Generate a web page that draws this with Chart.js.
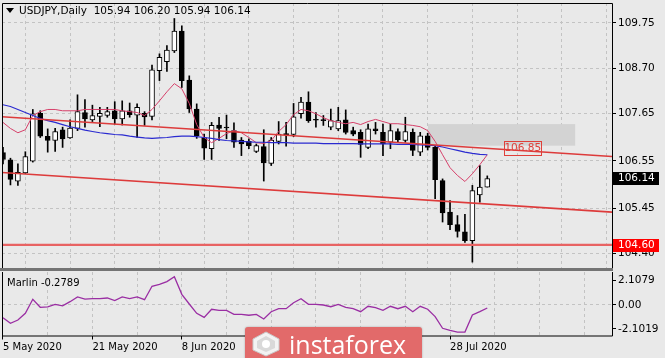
<!DOCTYPE html>
<html><head><meta charset="utf-8">
<script src="https://cdn.jsdelivr.net/npm/chart.js@4/dist/chart.umd.min.js"></script>
<style>
html,body{margin:0;padding:0;background:#e9e9e9;overflow:hidden;}
#wrap{position:relative;width:665px;height:358px;background:#e9e9e9;font-family:"DejaVu Sans",sans-serif;overflow:hidden;}
canvas{position:absolute;left:0;}
#main{top:0;}
#ind{top:271px;}
#title{position:absolute;left:6px;top:4px;font-size:10.5px;color:#000;white-space:nowrap;}
#title .tri{display:inline-block;width:0;height:0;border-left:4px solid transparent;border-right:4px solid transparent;border-top:5px solid #000;margin-right:5px;vertical-align:1px;}
#mlabel{position:absolute;left:7px;top:277px;font-size:10px;color:#000;white-space:nowrap;}
#logo{position:absolute;left:245px;top:327px;width:177px;height:34px;background:#e26a6a;border-radius:3px;box-shadow:0 0 2px rgba(0,0,0,0.3);}
#logo .txt{position:absolute;left:44px;top:0px;font-family:"Open Sans","DejaVu Sans",sans-serif;font-size:25px;color:#fff;}
#logo .ico{position:absolute;left:6px;top:4px;width:30px;height:26px;}
</style></head>
<body><div id="wrap">
<canvas id="main" width="665" height="272"></canvas>
<canvas id="ind" width="665" height="87"></canvas>
<div id="title"><span class="tri"></span>USDJPY,Daily&nbsp; 105.94 106.20 105.94 106.14</div>
<div id="mlabel">Marlin -0.2789</div>
<div id="logo"><svg class="ico" viewBox="0 0 30 26"><polygon points="15,1 28,8 28,19 15,25 2,19 2,8" fill="#f3f3f3" stroke="#c9c9c9" stroke-width="1"/><polygon points="15,5 24,10 24,17 15,21 6,17 6,10" fill="#d9d9d9"/><circle cx="15" cy="13" r="4" fill="#ffffff"/></svg><span class="txt">instaforex</span></div>
</div>
<script>
// ---- data ----
const dates = ['2020-05-05','2020-05-06','2020-05-07','2020-05-08','2020-05-11','2020-05-12','2020-05-13','2020-05-14','2020-05-15','2020-05-18','2020-05-19','2020-05-20','2020-05-21','2020-05-22','2020-05-25','2020-05-26','2020-05-27','2020-05-28','2020-05-29',
'2020-06-01','2020-06-02','2020-06-03','2020-06-04','2020-06-05','2020-06-08','2020-06-09','2020-06-10','2020-06-11','2020-06-12','2020-06-15','2020-06-16','2020-06-17','2020-06-18','2020-06-19','2020-06-22','2020-06-23','2020-06-24','2020-06-25','2020-06-26','2020-06-29','2020-06-30',
'2020-07-01','2020-07-02','2020-07-03','2020-07-06','2020-07-07','2020-07-08','2020-07-09','2020-07-10','2020-07-13','2020-07-14','2020-07-15','2020-07-16','2020-07-17','2020-07-20','2020-07-21','2020-07-22','2020-07-23','2020-07-24','2020-07-27','2020-07-28','2020-07-29','2020-07-30','2020-07-31',
'2020-08-03','2020-08-04'];
const open  = [106.74,106.57,106.08,106.27,106.54,107.65,107.12,107.02,107.27,107.08,107.30,107.67,107.50,107.58,107.60,107.71,107.52,107.71,107.61,107.65,107.58,108.64,108.85,109.10,109.56,108.42,107.75,107.09,106.83,107.38,107.33,107.25,107.03,107.00,106.77,106.88,106.49,107.00,107.18,107.16,107.64,107.91,107.51,107.50,107.33,107.29,107.50,107.25,107.21,106.86,107.29,107.21,106.98,107.23,107.02,107.21,106.75,107.13,106.86,106.09,105.36,105.07,104.90,104.70,105.76,105.94];
const high  = [106.86,106.61,106.48,106.76,107.74,107.71,107.29,107.30,107.33,107.50,108.08,107.97,107.84,107.79,107.79,107.92,107.94,107.89,107.87,107.69,108.77,109.03,109.22,109.85,109.68,108.52,107.87,107.17,107.44,107.56,107.61,107.43,107.09,107.06,106.94,107.27,107.09,107.46,107.44,107.88,108.02,108.15,107.67,107.60,107.75,107.79,107.73,107.33,107.27,107.40,107.44,107.40,107.40,107.29,107.56,107.29,107.21,107.19,106.90,106.13,105.63,105.28,105.31,105.98,106.44,106.20];
const low   = [106.48,105.99,105.98,106.25,106.52,107.09,106.75,106.77,106.86,107.07,107.25,107.33,107.46,107.34,107.56,107.40,107.38,107.56,107.09,107.37,107.50,108.41,108.62,109.06,108.25,107.67,107.07,106.58,106.58,107.02,107.06,106.86,106.67,106.83,106.74,106.08,106.44,106.94,106.89,107.11,107.54,107.44,107.33,107.37,107.27,107.25,107.17,107.13,106.63,106.83,107.17,106.67,106.83,106.98,106.98,106.67,106.67,106.80,105.67,105.13,104.95,104.78,104.66,104.20,105.59,105.94];
const close = [106.58,106.12,106.28,106.65,107.64,107.12,107.02,107.23,107.06,107.31,107.69,107.52,107.60,107.65,107.69,107.52,107.71,107.62,107.79,107.57,108.66,108.95,109.12,109.56,108.41,107.75,107.13,106.84,107.37,107.30,107.31,106.98,106.94,106.90,106.90,106.50,107.03,107.17,107.15,107.57,107.91,107.48,107.49,107.48,107.48,107.48,107.21,107.17,106.93,107.29,107.25,106.94,107.25,107.04,107.23,106.79,107.13,106.86,106.11,105.34,105.07,104.91,104.70,105.86,105.94,106.14];
const maFast = [107.44,107.30,107.20,107.27,107.60,107.69,107.74,107.74,107.71,107.71,107.71,107.74,107.74,107.74,107.74,107.74,107.71,107.69,107.67,107.60,107.74,107.94,108.15,108.34,108.22,107.88,107.39,107.09,106.97,107.07,107.18,107.25,107.20,107.09,106.97,106.95,107.02,107.23,107.39,107.62,107.74,107.71,107.64,107.55,107.48,107.44,107.41,107.44,107.39,107.46,107.51,107.46,107.41,107.41,107.39,107.37,107.34,107.25,107.00,106.69,106.39,106.21,106.07,106.25,106.46,106.69];
const maSlow = [107.85,107.81,107.74,107.67,107.60,107.53,107.48,107.44,107.39,107.34,107.30,107.26,107.23,107.20,107.18,107.16,107.15,107.12,107.10,107.08,107.07,107.08,107.09,107.11,107.12,107.12,107.11,107.09,107.07,107.04,107.02,107.01,107.00,106.99,106.98,106.98,106.97,106.97,106.97,106.96,106.96,106.96,106.96,106.95,106.95,106.95,106.95,106.95,106.94,106.94,106.94,106.94,106.94,106.93,106.93,106.93,106.92,106.91,106.90,106.87,106.83,106.79,106.75,106.72,106.70,106.69];
const marlin = [-1.12,-1.61,-1.32,-0.74,0.48,-0.22,-0.19,0.04,-0.10,0.27,0.68,0.50,0.53,0.53,0.59,0.36,0.68,0.53,0.68,0.44,1.61,1.78,2.01,2.44,0.91,0.07,-0.74,-1.09,-0.39,-0.48,-0.48,-0.83,-0.83,-0.91,-0.83,-1.23,-0.60,-0.34,-0.34,0.18,0.53,0.04,0.04,-0.02,-0.17,0.04,-0.22,-0.34,-0.60,-0.13,-0.25,-0.48,-0.13,-0.34,-0.13,-0.60,-0.13,-0.39,-1.03,-2.04,-2.22,-2.37,-2.37,-0.89,-0.60,-0.2789];
// trend lines: price at left edge and right edge of the plot
const upperTrend = [107.57, 106.65];
const lowerTrend = [106.28, 105.36];
const supportLevel = 104.60;
const lastPrice = 106.14;
const zoneHigh = 107.40, zoneLow = 106.90;
const zoneFromBar = 57.05, zoneToBar = 76.8;
const labelLevel = 106.85, labelBar = 69.7;
const priceTicks = [109.75,108.70,107.65,106.55,105.45,104.40];
const marlinTicks = [2.1079, 0, -2.1019];
const marlinTickLabels = ['2.1079','0.00','-2.1019'];
const xTickBars = [0,12,24,36,48,60];
const xTickLabels = ['5 May 2020','21 May 2020','8 Jun 2020','24 Jun 2020','10 Jul 2020','28 Jul 2020'];

// ---- layout constants ----
const X_MIN = -0.134, X_MAX = 81.74;
const FONT = {family:'DejaVu Sans', size:10.5};
const GRID = '#c3c3c3';
const gridBars = []; for (let b = 0; b <= 80; b += 6) gridBars.push(b);
const noPad = s => { s.paddingTop = 0; s.paddingBottom = 0; s.paddingLeft = 0; s.paddingRight = 0; };

const wickData = dates.map((d,i)=>({x:i, y:[low[i], high[i]]}));
const bodyData = dates.map((d,i)=>({x:i, y:[Math.min(open[i],close[i]), Math.max(open[i],close[i])]}));
const bodyFill = dates.map((d,i)=> close[i] >= open[i] ? '#ffffff' : '#000000');
const lineOf = arr => arr.map((v,i)=>({x:i, y:v}));
const edgeLine = pair => [{x:X_MIN, y:pair[0]}, {x:X_MAX, y:pair[1]}];

const mainDecor = {
  id:'mainDecor',
  beforeDatasetsDraw(chart){
    const {ctx, scales:{x,y}} = chart;
    const x0 = x.getPixelForValue(zoneFromBar), x1 = x.getPixelForValue(zoneToBar);
    const y0 = y.getPixelForValue(zoneHigh), y1 = y.getPixelForValue(zoneLow);
    ctx.save(); ctx.fillStyle = '#d3d3d3'; ctx.fillRect(x0, y0, x1-x0, y1-y0); ctx.restore();
  },
  afterDraw(chart){
    const {ctx, chartArea:a, scales:{x,y}} = chart;
    ctx.save();
    ctx.strokeStyle = '#000'; ctx.lineWidth = 1;
    ctx.beginPath();
    ctx.moveTo(a.left+0.5, a.bottom); ctx.lineTo(a.left+0.5, a.top+0.5);
    ctx.lineTo(a.right+0.5, a.top+0.5); ctx.lineTo(a.right+0.5, a.bottom);
    ctx.stroke();
    ctx.fillStyle = '#747474'; ctx.fillRect(0, a.bottom, a.right+1, 3);
    ctx.font = '10.5px "DejaVu Sans"'; ctx.textBaseline = 'middle'; ctx.textAlign = 'left';
    const box = (val, bg, fg) => {
      const py = y.getPixelForValue(val);
      ctx.fillStyle = bg; ctx.fillRect(a.right+1, Math.round(py)-6, 46, 13);
      ctx.fillStyle = fg; ctx.fillText(val.toFixed(2), a.right+6, Math.round(py)+0.5);
    };
    box(lastPrice, '#000000', '#ffffff');
    box(supportLevel, '#ff0000', '#ffffff');
    const lx = x.getPixelForValue(labelBar), ly = y.getPixelForValue(labelLevel);
    ctx.strokeStyle = '#e0403a'; ctx.lineWidth = 1;
    ctx.strokeRect(Math.round(lx-18)+0.5, Math.round(ly-7)+0.5, 37, 14);
    ctx.fillStyle = '#e0403a'; ctx.textAlign = 'center';
    ctx.fillText(labelLevel.toFixed(2), lx+0.5, ly+0.5);
    ctx.restore();
  }
};
const indFrame = {
  id:'indFrame',
  afterDraw(chart){
    const {ctx, chartArea:a} = chart;
    ctx.save(); ctx.strokeStyle = '#000'; ctx.lineWidth = 1;
    ctx.beginPath();
    ctx.moveTo(a.left+0.5, a.top); ctx.lineTo(a.left+0.5, a.bottom+0.5);
    ctx.lineTo(a.right+0.5, a.bottom+0.5); ctx.lineTo(a.right+0.5, a.top);
    ctx.stroke(); ctx.restore();
  }
};

new Chart(document.getElementById('main'), {
  type:'bar',
  data:{datasets:[
    {type:'line', data:edgeLine(upperTrend), borderColor:'#dd3b3b', borderWidth:1.6, pointRadius:0, order:0},
    {type:'line', data:edgeLine(lowerTrend), borderColor:'#dd3b3b', borderWidth:1.6, pointRadius:0, order:0},
    {type:'line', data:edgeLine([supportLevel, supportLevel]), borderColor:'#e86363', borderWidth:2.2, pointRadius:0, order:0},
    {type:'line', data:lineOf(maSlow), borderColor:'#2a2ad0', borderWidth:1.2, pointRadius:0, order:0},
    {type:'line', data:lineOf(maFast), borderColor:'#d6406a', borderWidth:1, pointRadius:0, order:0},
    {type:'bar', data:bodyData, backgroundColor:bodyFill, borderColor:'#000', borderWidth:1, borderSkipped:false, barThickness:5, grouped:false, minBarLength:1, order:1},
    {type:'bar', data:wickData, backgroundColor:'#000', borderWidth:0, barThickness:1, grouped:false, order:2}
  ]},
  options:{
    responsive:false, animation:false, devicePixelRatio:1,
    layout:{padding:{left:2, top:3, right:0, bottom:4}},
    plugins:{legend:{display:false}, tooltip:{enabled:false}},
    scales:{
      x:{type:'linear', min:X_MIN, max:X_MAX, offset:false, bounds:'data',
         afterBuildTicks:s=>{s.ticks = gridBars.map(v=>({value:v}));},
         ticks:{display:false}, grid:{color:GRID, drawTicks:false}, border:{display:false, dash:[3,3]},
         afterFit:s=>{s.height=0; noPad(s);}},
      y:{position:'right', min:104.064, max:110.209, bounds:'data',
         afterBuildTicks:s=>{s.ticks = priceTicks.map(v=>({value:v}));},
         ticks:{callback:v=>Number(v).toFixed(2), color:'#000', font:FONT, padding:2, autoSkip:false},
         grid:{color:GRID, tickColor:'#000', tickLength:4}, border:{display:false, dash:[3,3]},
         afterFit:s=>{s.width=53; noPad(s);}}
    }
  },
  plugins:[mainDecor]
});

new Chart(document.getElementById('ind'), {
  type:'line',
  data:{datasets:[{data:lineOf(marlin), borderColor:'#9a2ea3', borderWidth:1.3, pointRadius:0, tension:0}]},
  options:{
    responsive:false, animation:false, devicePixelRatio:1,
    layout:{padding:{left:2, top:1, right:0, bottom:0}},
    plugins:{legend:{display:false}, tooltip:{enabled:false}},
    scales:{
      x:{type:'linear', min:X_MIN, max:X_MAX, offset:false, bounds:'data',
         afterBuildTicks:s=>{s.ticks = gridBars.map(v=>({value:v}));},
         ticks:{callback:v=>{const k = xTickBars.indexOf(v); return k>=0 ? xTickLabels[k] : '';}, autoSkip:false, maxRotation:0, align:'start', padding:2, color:'#000', font:{family:'DejaVu Sans', size:10}},
         grid:{color:GRID, tickLength:4, tickColor:c=> xTickBars.indexOf(c.tick && c.tick.value)>=0 ? '#000' : 'rgba(0,0,0,0)'},
         border:{display:false, dash:[3,3]},
         afterFit:s=>{s.height=22.5; noPad(s);}},
      y:{position:'right', min:-2.67, max:2.85, bounds:'data',
         afterBuildTicks:s=>{s.ticks = marlinTicks.map(v=>({value:v}));},
         ticks:{callback:(v,i)=>marlinTickLabels[i], color:'#000', font:FONT, padding:2, autoSkip:false},
         grid:{color:c=> (c.tick && c.tick.value===0) ? GRID : 'rgba(0,0,0,0)', tickColor:'#000', tickLength:4},
         border:{display:false, dash:[3,3]},
         afterFit:s=>{s.width=53; noPad(s);}}
    }
  },
  plugins:[indFrame]
});
</script>
</body></html>
